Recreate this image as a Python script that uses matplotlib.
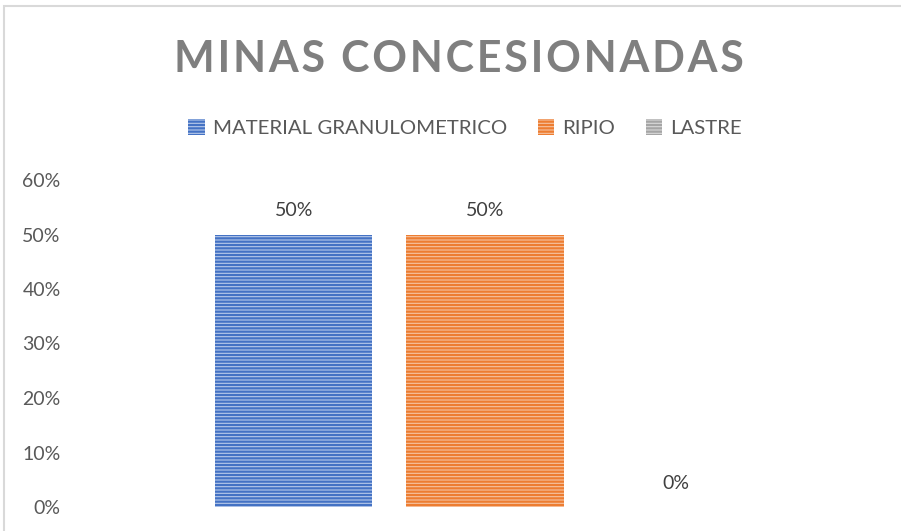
import matplotlib.pyplot as plt
from matplotlib.patches import Rectangle

# Datos del grafico
series = ["MATERIAL GRANULOMETRICO", "RIPIO", "LASTRE"]
valores = [0.50, 0.50, 0.00]
etiquetas = ["50%", "50%", "0%"]
colores = ["#4472C4", "#ED7D31", "#A5A5A5"]
rellenos = ["#b7c9ea", "#f6c3a1", "#d9d9d9"]
yticks = [0.0, 0.1, 0.2, 0.3, 0.4, 0.5, 0.6]
ytick_labels = ["0%", "10%", "20%", "30%", "40%", "50%", "60%"]
titulo = "MINAS CONCESIONADAS"

plt.rcParams["font.family"] = ["Lato", "DejaVu Sans"]
plt.rcParams["hatch.linewidth"] = 1.6

fig = plt.figure(figsize=(9.01, 5.31), dpi=100)
ax = fig.add_axes([80 / 901, 24 / 531, 810 / 901, 327 / 531])

# borde del grafico
fig.add_artist(Rectangle((4 / 901, -0.1), 1.2, (531 - 6) / 531 + 0.1,
                         transform=fig.transFigure, fill=False,
                         edgecolor="#d9d9d9", linewidth=1.5))

x = list(range(len(series)))
for i in x:
    ax.bar(i, valores[i], width=0.822, color=rellenos[i],
           edgecolor=colores[i], hatch="-----", linewidth=0,
           label=series[i])
    ax.text(i, valores[i] + 0.028, etiquetas[i], ha="center", va="bottom",
            fontsize=14, color="#404040")

ax.set_xlim(-1.12, 3.12)
ax.set_ylim(0, 0.6)
ax.set_xticks([])
ax.set_yticks(yticks)
ax.set_yticklabels(ytick_labels, fontsize=14, color="#595959")
ax.tick_params(axis="y", length=0, pad=14)
for s in ax.spines.values():
    s.set_visible(False)

# titulo con espaciado entre letras
fig.text(459 / 901, 1 - 59 / 531, "\u200a".join(titulo),
         ha="center", va="center", fontsize=31, fontweight="bold",
         color="#7f7f7f")

leg = fig.legend(loc="center", bbox_to_anchor=(465 / 901, 1 - 128 / 531),
                 ncol=3, frameon=False, fontsize=14.7, handlelength=0.8,
                 handleheight=0.8, columnspacing=1.5, handletextpad=0.4)
for t in leg.get_texts():
    t.set_color("#595959")

fig.savefig("out.png", dpi=100)
